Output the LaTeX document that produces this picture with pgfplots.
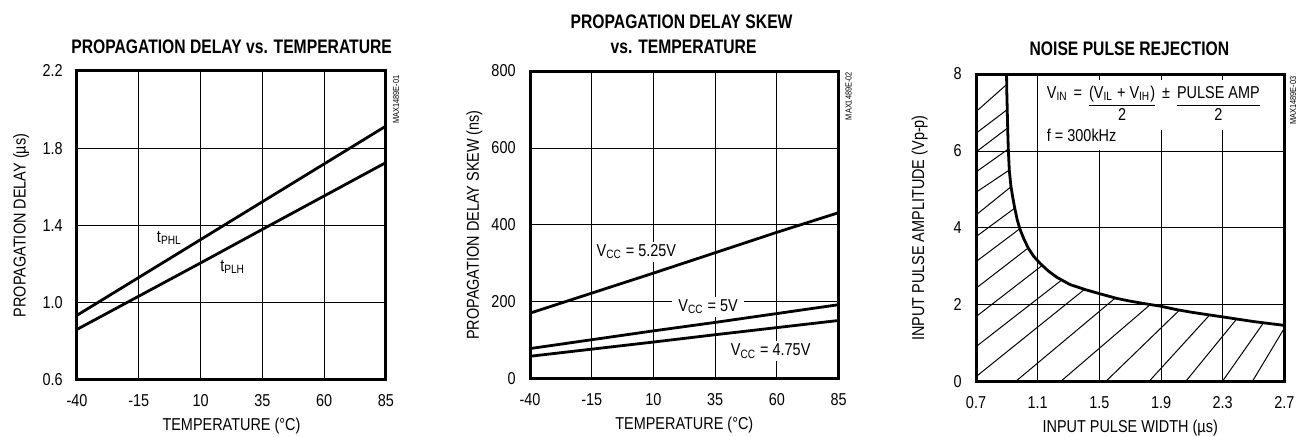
\documentclass[border=0pt]{standalone}
\usepackage{fontspec}
\setmainfont{Liberation Sans}[FakeStretch=0.84]
\newfontfamily\titlefont{Liberation Sans}[FakeStretch=0.80]
\usepackage{pgfplots}
\pgfplotsset{compat=1.18}
\setlength{\arrayrulewidth}{0.5pt}
\newcommand{\lbl}{\fontsize{8.6}{10.8}\selectfont}
\newcommand{\ttl}{\titlefont\bfseries\fontsize{9.8}{11}\selectfont}
\newcommand{\sidelbl}{\fontsize{4.4}{5}\selectfont}

\pgfplotsset{
 myaxis/.style={
  scale only axis,
  anchor=south west,
  axis line style={line width=1.5pt},
  grid=major,
  major grid style={black, line width=0.5pt},
  major tick length=0pt,
  tick label style={font=\lbl},
  xticklabel style={anchor=base, yshift=-13.5pt},
  yticklabel style={anchor=east, inner sep=0pt, xshift=-7pt},
  label style={font=\lbl},
  xlabel style={at={(axis description cs:0.5,0)}, anchor=base, yshift=-25.5pt},
  ylabel style={at={(axis description cs:-0.166,0.5)}, anchor=base},
  every axis plot/.append style={line width=1.4pt, black},
 }
}

\begin{document}
\begin{tikzpicture}

% ---------- Chart 1 ----------
\begin{axis}[myaxis, at={(38.5pt,28.5pt)}, width=154.5pt, height=154.5pt,
  xmin=-40, xmax=85, ymin=0.6, ymax=2.2,
  xtick={-40,-15,10,35,60,85}, xticklabels={-40,-15,10,35,60,85},
  ytick={0.6,1.0,1.4,1.8,2.2}, yticklabels={0.6,1.0,1.4,1.8,2.2},
  xlabel={TEMPERATURE (°C)}, ylabel={PROPAGATION DELAY (µs)}]
\addplot[black, line width=1.4pt] coordinates {(-40,0.935) (10,1.327) (35,1.523) (85,1.915)};
\addplot[black, line width=1.4pt] coordinates {(-40,0.862) (10,1.206) (35,1.380) (85,1.726)};
\node[anchor=base west, inner sep=0pt, font=\lbl] at (axis cs:-7.8,1.311) {t\textsubscript{PHL}};
\node[anchor=base west, inner sep=0pt, font=\lbl] at (axis cs:17.8,1.161) {t\textsubscript{PLH}};
\end{axis}

% ---------- Chart 2 ----------
\begin{axis}[myaxis, at={(265pt,29pt)}, width=154.3pt, height=154pt,
  xmin=-40, xmax=85, ymin=0, ymax=800,
  xtick={-40,-15,10,35,60,85}, xticklabels={-40,-15,10,35,60,85},
  ytick={0,200,400,600,800}, yticklabels={0,200,400,600,800},
  xlabel={TEMPERATURE (°C)}, ylabel={PROPAGATION DELAY SKEW (ns)}]
\addplot[black, line width=1.4pt] coordinates {(-40,171) (10,275) (35,328) (60,381) (85,432)};
\addplot[black, line width=1.4pt] coordinates {(-40,79) (10,125) (35,147) (85,193)};
\addplot[black, line width=1.4pt] coordinates {(-40,59) (10,96) (35,115) (85,152)};
\node[anchor=base west, inner xsep=2.5pt, inner ysep=1.5pt, fill=white, font=\lbl] at (axis cs:-15.2,318) {V\textsubscript{CC} = 5.25V};
\node[anchor=base west, inner xsep=3pt, inner ysep=1.5pt, fill=white, font=\lbl] at (axis cs:17.5,175) {V\textsubscript{CC} = 5V};
\node[anchor=base west, inner xsep=3pt, inner ysep=1.5pt, fill=white, font=\lbl] at (axis cs:38.8,60) {V\textsubscript{CC} = 4.75V};
\end{axis}

% ---------- Chart 3 ----------
\begin{axis}[myaxis, at={(488pt,27.5pt)}, width=154.2pt, height=154pt,
  xmin=0.7, xmax=2.7, ymin=0, ymax=8,
  xtick={0.7,1.1,1.5,1.9,2.3,2.7}, xticklabels={0.7,1.1,1.5,1.9,2.3,2.7},
  ytick={0,2,4,6,8}, yticklabels={0,2,4,6,8},
  ylabel style={at={(axis description cs:-0.168,0.5)}},
  xlabel={INPUT PULSE WIDTH (µs)}, ylabel={INPUT PULSE AMPLITUDE (Vp-p)}]
% hatch lines
\addplot[black, line width=0.5pt, unbounded coords=jump] coordinates {
 (0.7,7.021) (0.895,7.714) (nan,nan)
 (0.7,6.460) (0.899,7.065) (nan,nan)
 (0.7,5.974) (0.905,6.597) (nan,nan)
 (0.7,5.455) (0.910,6.052) (nan,nan)
 (0.7,4.927) (0.916,5.506) (nan,nan)
 (0.7,4.338) (0.928,5.073) (nan,nan)
 (0.7,3.774) (0.950,4.512) (nan,nan)
 (0.7,3.125) (0.982,3.974) (nan,nan)
 (0.7,2.434) (1.038,3.480) (nan,nan)
 (0.7,1.696) (1.130,3.030) (nan,nan)
 (0.7,0.917) (1.256,2.650) (nan,nan)
 (0.7,0.138) (1.405,2.410) (nan,nan)
 (0.953,0) (1.603,2.180) (nan,nan)
 (1.245,0) (1.830,2.010) (nan,nan)
 (1.538,0) (2.020,1.870) (nan,nan)
 (1.819,0) (2.215,1.740) (nan,nan)
 (2.057,0) (2.390,1.635) (nan,nan)
 (2.295,0) (2.565,1.540) (nan,nan)
 (2.490,0) (2.700,1.400)
};
% boundary curve
\addplot[black, line width=1.4pt] coordinates {
 (0.898,8.0) (0.900,7.5) (0.903,7.0) (0.906,6.5) (0.910,6.0) (0.916,5.5)
 (0.926,5.1) (0.938,4.8) (0.952,4.5) (0.968,4.2) (0.986,3.96) (1.010,3.72)
 (1.040,3.47) (1.075,3.26) (1.116,3.08) (1.170,2.88) (1.224,2.72) (1.310,2.53)
 (1.408,2.40) (1.505,2.29) (1.614,2.17) (1.700,2.10) (1.800,2.03) (1.895,1.97)
 (2.000,1.88) (2.100,1.81) (2.200,1.75) (2.284,1.70) (2.400,1.63) (2.500,1.57)
 (2.600,1.52) (2.700,1.47)};
\node[anchor=base west, inner sep=1.5pt, fill=white, font=\lbl] at (axis cs:1.138,7.37)
 {V\textsubscript{IN}\hspace{1pt} =\hspace{1.5pt} \begin{tabular}[t]{@{}c@{}}(V\textsubscript{IL} + V\textsubscript{IH})\\\hline 2\end{tabular}\hspace{1.5pt} ±\hspace{1.5pt} \begin{tabular}[t]{@{}c@{}}PULSE AMP\\\hline 2\end{tabular}};
\node[anchor=base west, inner xsep=1.5pt, inner ysep=4pt, fill=white, font=\lbl] at (axis cs:1.138,6.24) {f = 300kHz};
\end{axis}

% ---------- Titles ----------
\node[anchor=base, font=\ttl] at (115.8pt,191.8pt) {PROPAGATION DELAY vs. TEMPERATURE};
\node[anchor=base, font=\ttl] at (340.8pt,204pt) {PROPAGATION DELAY SKEW};
\node[anchor=base, font=\ttl] at (341.8pt,191.8pt) {vs. TEMPERATURE};
\node[anchor=base, font=\ttl] at (564.7pt,190.5pt) {NOISE PULSE REJECTION};

% ---------- side codes ----------
\node[rotate=90, anchor=east, inner sep=0pt, font=\sidelbl] at (198pt,181pt) {MAX1489E-01};
\node[rotate=90, anchor=east, inner sep=0pt, font=\sidelbl] at (424.3pt,182.7pt) {MAX1489E-02};
\node[rotate=90, anchor=east, inner sep=0pt, font=\sidelbl] at (646.5pt,180.5pt) {MAX1489E-03};

\pgfresetboundingbox
\path[use as bounding box] (0,0) rectangle (648pt,218.5pt);
\end{tikzpicture}
\end{document}
